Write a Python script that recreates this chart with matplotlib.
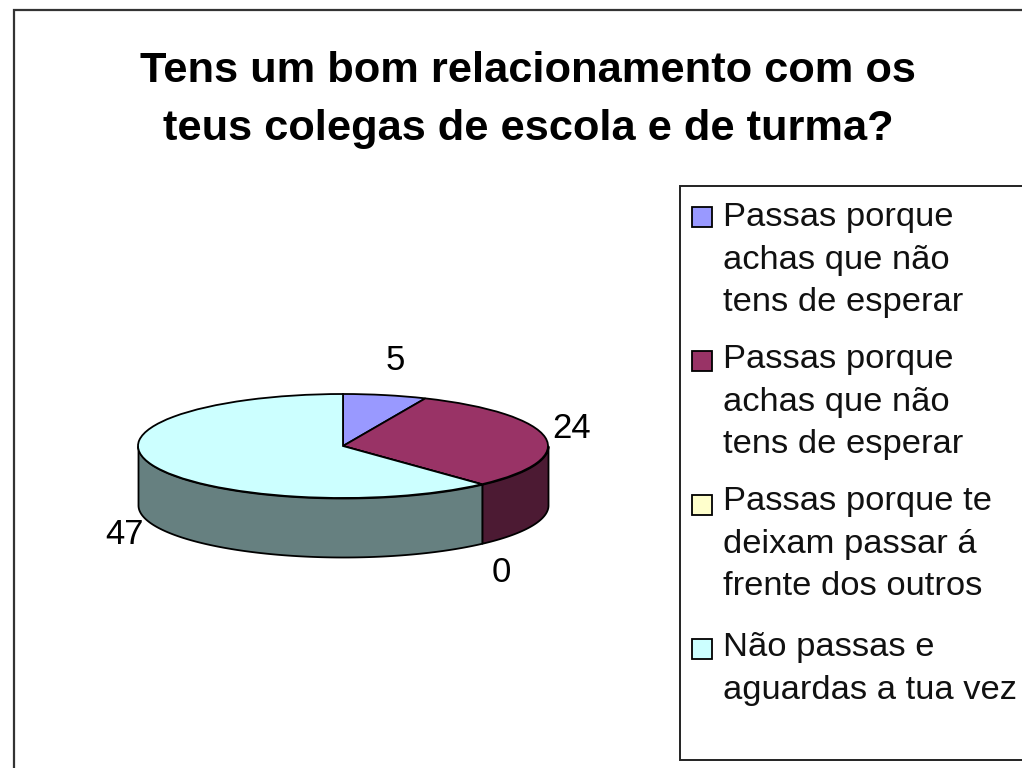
import numpy as np
import matplotlib
matplotlib.use('Agg')
import matplotlib.pyplot as plt
from matplotlib.patches import Rectangle

plt.rcParams['font.family'] = ['Liberation Sans', 'DejaVu Sans']

title = 'Tens um bom relacionamento com os\nteus colegas de escola e de turma?'
categories = ['Passas porque\nachas que não\ntens de esperar',
              'Passas porque\nachas que não\ntens de esperar',
              'Passas porque te\ndeixam passar á\nfrente dos outros',
              'Não passas e\naguardas a tua vez']
values = [5, 24, 0, 47]
colors = ['#9999FF', '#993366', '#FFFFCC', '#CCFFFF']
side_colors = ['#4C4C80', '#4C1A33', '#808066', '#668080']

W, H = 1022, 768
fig = plt.figure(figsize=(W / 100, H / 100), dpi=100, facecolor='white')

# full figure axes in pixels, for frame, texts and legend
ax = fig.add_axes([0, 0, 1, 1])
ax.set_xlim(0, W)
ax.set_ylim(H, 0)
ax.axis('off')

ax.add_patch(Rectangle((14, 10), 1100, 900, fc='white', ec='#333333', lw=1.6))
ax.text(528, 100, title, ha='center', va='center', fontsize=31.2,
        fontweight='bold', color='black', linespacing=1.56)

# flattened pie, the wall goes under the top face
ry, depth = 52, 59
left, right, top = 138, 548, 394
bottom = top + 2 * ry + depth
pie_ax = fig.add_axes([left / W, 1 - bottom / H, (right - left) / W, (bottom - top) / H], zorder=2)

edges = np.concatenate([[0], np.cumsum(values)]) / sum(values) * 2 * np.pi
for i in range(len(values)):
    a0 = max(edges[i], np.pi / 2)
    a1 = min(edges[i + 1], 3 * np.pi / 2)
    if a1 > a0:
        t = np.linspace(a0, a1, 200)
        pie_ax.fill_between(np.sin(t), np.cos(t), np.cos(t) - depth / ry, fc=side_colors[i],
                            ec='black', lw=1.3, clip_on=False)

wedges, _ = pie_ax.pie(values, colors=colors, startangle=90, counterclock=False,
                       wedgeprops={'edgecolor': 'black', 'linewidth': 1.3, 'clip_on': False})
pie_ax.set_aspect('auto')
pie_ax.set_xlim(-1, 1)
pie_ax.set_ylim(-1 - depth / ry, 1)
pie_ax.axis('off')

label_pos = [(395, 361), (572, 429), (501, 572), (125, 534)]
for v, (x, y) in zip(values, label_pos):
    ax.text(x, y, str(v), ha='center', va='center', fontsize=25, color='black')

# legend box runs off the right edge like in the screenshot
ax.add_patch(Rectangle((680, 186), 500, 574, fc='white', ec='#222222', lw=1.4))
text_tops = [202, 344, 486, 632]
handle_tops = [207, 351, 495, 639]
for cat, c, y, hy in zip(categories, colors, text_tops, handle_tops):
    ax.add_patch(Rectangle((692, hy), 20, 20, fc=c, ec='black', lw=1.3))
    ax.text(723, y, cat, ha='left', va='top', fontsize=24.8, color='#111111', linespacing=1.48)

fig.savefig('out.png', dpi=100)
